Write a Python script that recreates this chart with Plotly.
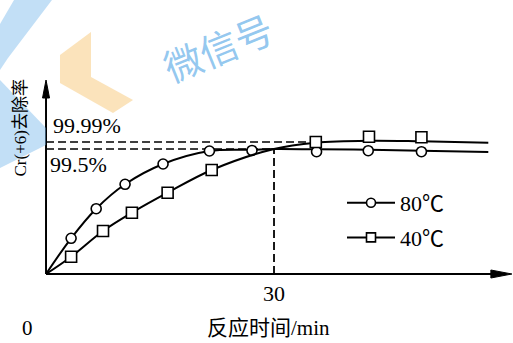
import plotly.graph_objects as go

# Reaction time (min) and Cr(+6) removal rate (%) at two temperatures: measured points
time_80 = [3.3, 6.6, 10.4, 15.4, 21.5, 27.1, 35.6, 42.4, 49.4]
rate_80 = [93.25, 95.32, 97.03, 98.45, 99.36, 99.40, 99.31, 99.38, 99.31]
time_40 = [3.3, 7.5, 11.3, 16.0, 21.8, 35.5, 42.5, 49.4]
rate_40 = [91.96, 93.76, 95.04, 96.44, 98.03, 99.99, 100.36, 100.32]

# smoothed trend curves
curve_time_80 = [0, 3.3, 6.6, 10.4, 15.4, 21.5, 27.1, 30, 35.6, 42.4, 49.4, 58.2]
curve_rate_80 = [90.75, 93.25, 95.32, 97.03, 98.45, 99.36, 99.45, 99.5, 99.48, 99.45, 99.38, 99.29]
curve_time_40 = [0, 3.3, 7.5, 11.3, 16.0, 21.8, 30, 35.5, 42.5, 49.4, 58.2]
curve_rate_40 = [90.75, 91.96, 93.76, 95.04, 96.44, 98.03, 99.5, 99.94, 100.08, 100.04, 99.94]

ref_levels = [99.99, 99.5]
ref_labels = ["99.99%", "99.5%"]
ref_time = 30
series_names = ["80℃", "40℃"]
x_title = "反应时间/min"
y_title = "Cr(+6)去除率"

W, H = 513, 343
ML, MR, MT, MB = 36, 0, 75, 59
X_RANGE = [-1.32, 61.45]
Y_RANGE = [90.05, 104.68]
X0, Y0 = 0.0, 90.75          # axes origin
X_END, Y_END = 61.3, 104.33  # arrow tips

SERIF = "Liberation Serif, Times New Roman, Noto Sans CJK SC, serif"
CJK = "Noto Sans CJK SC, sans-serif"
INK = "black"

fig = go.Figure()

symbols = ["circle", "square"]
sizes = [10, 11]
curves = [(curve_time_80, curve_rate_80), (curve_time_40, curve_rate_40)]
points = [(time_80, rate_80), (time_40, rate_40)]

for (ct, cr), (pt, pr), sym, sz, name in zip(curves, points, symbols, sizes, series_names):
    fig.add_trace(go.Scatter(
        x=ct, y=cr, mode="lines", showlegend=False, hoverinfo="skip",
        line=dict(color=INK, width=2, shape="spline", smoothing=1),
    ))
    fig.add_trace(go.Scatter(
        x=pt, y=pr, mode="markers", showlegend=False, name=name,
        marker=dict(symbol=sym, size=sz, color="white", line=dict(color=INK, width=1.6)),
    ))
    # legend entry (line with marker)
    fig.add_trace(go.Scatter(
        x=[None], y=[None], mode="lines+markers", name=name, legendgroup=name,
        line=dict(color=INK, width=2),
        marker=dict(symbol=sym, size=9, color="white", line=dict(color=INK, width=1.6)),
    ))

dash = "8px,4px"
stop_99_99 = time_40[[r >= ref_levels[0] for r in rate_40].index(True)]
shapes = [
    dict(type="line", xref="x", yref="y", x0=X0, x1=stop_99_99,
         y0=ref_levels[0], y1=ref_levels[0], layer="below",
         line=dict(color=INK, width=1.5, dash=dash)),
    dict(type="line", xref="x", yref="y", x0=X0, x1=ref_time,
         y0=ref_levels[1], y1=ref_levels[1], layer="below",
         line=dict(color=INK, width=1.5, dash=dash)),
    dict(type="line", xref="x", yref="y", x0=ref_time, x1=ref_time,
         y0=Y0, y1=ref_levels[1], layer="below",
         line=dict(color=INK, width=1.8, dash=dash)),
    # axes with arrow heads
    dict(type="line", xref="x", yref="y", x0=X0, x1=X_END - 1,
         y0=Y0, y1=Y0, line=dict(color=INK, width=2)),
    dict(type="line", xref="x", yref="y", x0=X0, x1=X0,
         y0=Y0, y1=Y_END - 1, line=dict(color=INK, width=2)),
    dict(type="path", xref="x", yref="y", xsizemode="pixel", ysizemode="pixel",
         xanchor=X_END, yanchor=Y0, path="M0,0 L-21,4 L-21,-4 Z",
         fillcolor=INK, line=dict(color=INK, width=1)),
    dict(type="path", xref="x", yref="y", xsizemode="pixel", ysizemode="pixel",
         xanchor=X0, yanchor=Y_END, path="M0,0 L-3.5,-18 L3.5,-18 Z",
         fillcolor=INK, line=dict(color=INK, width=1)),
]


def px(x, y):
    """Page pixel -> paper coordinates."""
    pw, ph = W - ML - MR, H - MT - MB
    return (x - ML) / pw, (H - MB - y) / ph


def poly(pts):
    parts = []
    for i, (x, y) in enumerate(pts):
        u, v = px(x, y)
        parts.append(("M" if i == 0 else "L") + f"{u:.4f},{v:.4f}")
    return " ".join(parts) + " Z"


# faint logo overlay
shapes += [
    dict(type="path", xref="paper", yref="paper", layer="above",
         path=poly([(60, 55), (91, 32), (91, 77), (133, 100), (113, 113), (60, 83)]),
         fillcolor="rgba(248,200,120,0.5)", line=dict(width=0)),
    dict(type="path", xref="paper", yref="paper", layer="above",
         path=poly([(14, 0), (52, 0), (8, 58), (0, 70), (0, 24)]),
         fillcolor="rgba(120,185,235,0.45)", line=dict(width=0)),
    dict(type="path", xref="paper", yref="paper", layer="above",
         path=poly([(0, 80), (46, 128), (46, 145), (0, 168)]),
         fillcolor="rgba(120,185,235,0.45)", line=dict(width=0)),
]
fig.update_layout(shapes=shapes)

FS = 22
ann = [
    dict(x=X0, y=ref_levels[0], xref="x", yref="y", text=ref_labels[0],
         showarrow=False, xanchor="left", yanchor="bottom", xshift=5, yshift=2,
         font=dict(family=SERIF, size=FS, color=INK)),
    dict(x=X0, y=ref_levels[1], xref="x", yref="y", text=ref_labels[1],
         showarrow=False, xanchor="left", yanchor="top", xshift=2, yshift=-1,
         font=dict(family=SERIF, size=FS, color=INK)),
    dict(x=ref_time, y=Y0, xref="x", yref="y", text=str(ref_time),
         showarrow=False, xanchor="center", yanchor="middle", yshift=-19,
         font=dict(family=SERIF, size=FS, color=INK)),
    dict(x=X0, y=Y0, xref="x", yref="y", text="0",
         showarrow=False, xanchor="center", yanchor="middle", xshift=-19, yshift=-54,
         font=dict(family=SERIF, size=FS - 1, color=INK)),
    dict(x=29.3, y=Y0, xref="x", yref="y", text=x_title,
         showarrow=False, xanchor="center", yanchor="middle", yshift=-54,
         font=dict(family=SERIF, size=FS - 1, color=INK)),
]
u, v = px(19.5, 128)
ann.append(dict(x=u, y=v, xref="paper", yref="paper", text=y_title,
                showarrow=False, textangle=-90, xanchor="center", yanchor="middle",
                font=dict(family=SERIF, size=17, color=INK)))
u, v = px(218, 47)
ann.append(dict(x=u, y=v, xref="paper", yref="paper", text="微信号",
                showarrow=False, textangle=-22, xanchor="center", yanchor="middle",
                font=dict(family=CJK, size=38, color="rgba(120,185,235,0.8)")))
fig.update_layout(annotations=ann)

lx, ly = px(342, 182)
fig.update_layout(
    width=W, height=H,
    margin=dict(l=ML, r=MR, t=MT, b=MB),
    paper_bgcolor="white", plot_bgcolor="white",
    xaxis=dict(range=X_RANGE, visible=False, fixedrange=True),
    yaxis=dict(range=Y_RANGE, visible=False, fixedrange=True),
    showlegend=True,
    legend=dict(x=lx, y=ly, xanchor="left", yanchor="top", itemwidth=48,
                bgcolor="rgba(0,0,0,0)", tracegroupgap=3,
                font=dict(family=SERIF, size=FS, color=INK)),
)

fig.write_html("out.html")
